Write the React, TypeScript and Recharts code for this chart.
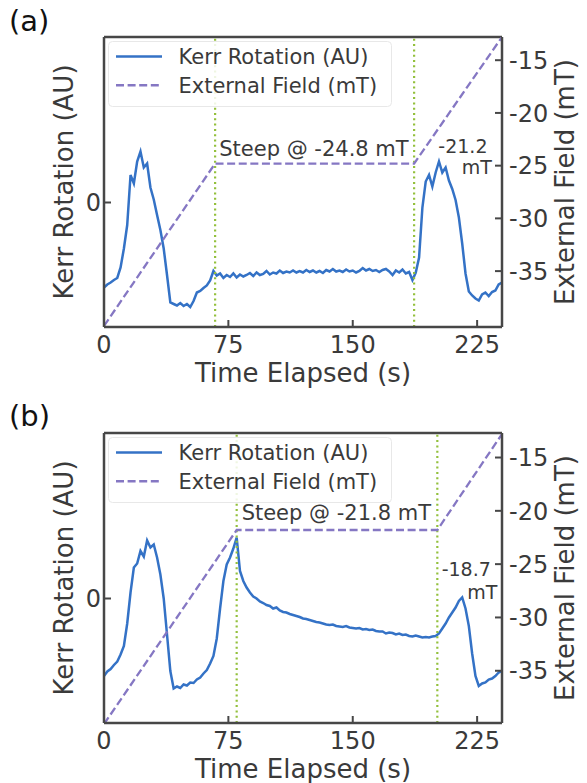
import React from 'react';
import {
  ComposedChart,
  Line,
  XAxis,
  YAxis,
  ReferenceLine,
  ReferenceDot,
  Legend
} from 'recharts';

// sample times (s), shared by both Kerr traces
const times = [
  0, 2, 4, 6, 8, 10, 12, 14, 16, 18,
  20, 22, 24, 26, 28, 30, 32, 34, 36, 38,
  40, 42, 44, 46, 48, 50, 52, 54, 56, 58,
  60, 62, 64, 66, 68, 70, 72, 74, 76, 78,
  80, 82, 84, 86, 88, 90, 92, 94, 96, 98,
  100, 102, 104, 106, 108, 110, 112, 114, 116, 118,
  120, 122, 124, 126, 128, 130, 132, 134, 136, 138,
  140, 142, 144, 146, 148, 150, 152, 154, 156, 158,
  160, 162, 164, 166, 168, 170, 172, 174, 176, 178,
  180, 182, 184, 186, 188, 190, 192, 194, 196, 198,
  200, 202, 204, 206, 208, 210, 212, 214, 216, 218,
  220, 222, 224, 226, 228, 230, 232, 234, 236, 238,
  240
];

const kerrA = [
  -1.70, -1.64, -1.60, -1.55, -1.51, -1.30, -0.92, -0.45, 0.55, 0.38,
  0.82, 1.02, 0.70, 0.78, 0.30, 0.06, -0.25, -0.55, -0.92, -1.45,
  -2.00, -2.03, -2.06, -2.01, -2.07, -2.03, -2.09, -1.97, -1.80, -1.77,
  -1.71, -1.66, -1.56, -1.37, -1.46, -1.42, -1.51, -1.45, -1.49, -1.42,
  -1.50, -1.44, -1.48, -1.45, -1.41, -1.47, -1.40, -1.45, -1.43, -1.37,
  -1.44, -1.40, -1.42, -1.36, -1.41, -1.38, -1.40, -1.36, -1.40, -1.37,
  -1.40, -1.35, -1.39, -1.36, -1.40, -1.37, -1.41, -1.35, -1.38, -1.33,
  -1.38, -1.36, -1.39, -1.34, -1.38, -1.36, -1.40, -1.37, -1.31, -1.36,
  -1.33, -1.37, -1.35, -1.39, -1.35, -1.33, -1.38, -1.45, -1.36, -1.40,
  -1.34, -1.42, -1.39, -1.55, -1.40, -1.10, -0.10, 0.42, 0.55, 0.32,
  0.60, 0.82, 0.60, 0.70, 0.44, 0.27, 0.05, -0.30, -0.82, -1.42,
  -1.78, -1.86, -1.92, -1.96, -1.84, -1.80, -1.87, -1.79, -1.76, -1.64,
  -1.60
];

const kerrB = [
  -1.55, -1.46, -1.41, -1.33, -1.26, -1.12, -0.95, -0.50, 0.12, 0.62,
  0.70, 0.95, 0.84, 1.16, 1.02, 1.08, 0.82, 0.48, 0.00, -0.72,
  -1.45, -1.80, -1.76, -1.79, -1.72, -1.74, -1.68, -1.69, -1.62, -1.58,
  -1.50, -1.43, -1.30, -1.15, -0.80, -0.20, 0.35, 0.68, 0.82, 1.00,
  1.22, 0.55, 0.35, 0.22, 0.12, 0.04, 0.00, -0.06, -0.09, -0.13,
  -0.15, -0.20, -0.18, -0.24, -0.27, -0.28, -0.31, -0.33, -0.35, -0.37,
  -0.40, -0.41, -0.43, -0.45, -0.47, -0.48, -0.50, -0.52, -0.53, -0.52,
  -0.55, -0.56, -0.57, -0.55, -0.58, -0.59, -0.60, -0.59, -0.62, -0.61,
  -0.63, -0.62, -0.65, -0.66, -0.66, -0.70, -0.68, -0.69, -0.72, -0.70,
  -0.73, -0.72, -0.75, -0.76, -0.74, -0.76, -0.78, -0.77, -0.78, -0.76,
  -0.75, -0.70, -0.60, -0.50, -0.38, -0.28, -0.18, -0.05, 0.02, -0.20,
  -0.55, -1.10, -1.55, -1.75, -1.70, -1.68, -1.62, -1.60, -1.55, -1.48,
  -1.45
];

// field ramp corners (s, mT)
const fieldTimesA = [0, 67, 187, 240];
const fieldA = [-40.2, -24.8, -24.8, -12.8];
const fieldTimesB = [0, 80, 201, 240];
const fieldB = [-40.0, -21.8, -21.8, -12.8];

const stepsA = [67, 187];
const stepsB = [80, 201];

const notesA = [
  { t: 69.5, f: -24.05, text: 'Steep @ -24.8 mT', size: 21 },
  { t: 201.6, f: -23.8, text: '-21.2', size: 19 },
  { t: 215.7, f: -25.8, text: 'mT', size: 19 }
];
const notesB = [
  { t: 83.0, f: -20.82, text: 'Steep @ -21.8 mT', size: 21 },
  { t: 203.6, f: -26.1, text: '-18.7', size: 19 },
  { t: 219.1, f: -28.3, text: 'mT', size: 19 }
];

const timeTicks = [0, 75, 150, 225];
const kerrTicks = [0];
const fieldTicks = [-35, -30, -25, -20, -15];

const legendItems = [
  { name: 'Kerr Rotation (AU)', dashed: false },
  { name: 'External Field (mT)', dashed: true }
];

const INK = '#3a3a3a';
const FRAME = '#474747';
const KERR_COLOR = '#3472c6';
const FIELD_COLOR = '#8577c3';
const STEP_COLOR = '#93c03c';
const FONT = '"DejaVu Sans", sans-serif';
const kerrDomain: [number, number] = [-2.49, 3.31];

const timeTick = (p: any) => (
  <g>
    <line x1={p.x} x2={p.x} y1={p.y} y2={p.y - 7} stroke={FRAME} strokeWidth={2} />
    <text x={p.x} y={p.y + 26} textAnchor="middle" fontSize={24} fill={INK} fontFamily={FONT}>
      {p.payload.value}
    </text>
  </g>
);

const kerrTick = (p: any) => (
  <g>
    <line x1={p.x} x2={p.x + 7} y1={p.y} y2={p.y} stroke={FRAME} strokeWidth={2} />
    <text x={p.x - 3} y={p.y + 8.7} textAnchor="end" fontSize={24} fill={INK} fontFamily={FONT}>
      {p.payload.value}
    </text>
  </g>
);

const fieldTick = (p: any) => (
  <g>
    <line x1={p.x} x2={p.x - 7} y1={p.y} y2={p.y} stroke={FRAME} strokeWidth={2} />
    <text x={p.x + 7} y={p.y + 8.7} textAnchor="start" fontSize={24} fill={INK} fontFamily={FONT}>
      {p.payload.value}
    </text>
  </g>
);

const timeLabel = (props: any) => {
  const vb = props.viewBox || {};
  const cx = (vb.x ?? 104) + (vb.width ?? 398) / 2;
  const y = (vb.y ?? 327) + 55;
  return (
    <text x={cx} y={y} textAnchor="middle" fontSize={26} fill={INK} fontFamily={FONT}>
      Time Elapsed (s)
    </text>
  );
};

const sideLabel = (text: string, dx: number) => (props: any) => {
  const vb = props.viewBox || {};
  const x = (vb.x ?? 0) + dx;
  const cy = (vb.y ?? 37) + (vb.height ?? 290) / 2;
  return (
    <text
      x={x}
      y={cy}
      transform={`rotate(-90, ${x}, ${cy})`}
      textAnchor="middle"
      fontSize={26}
      fill={INK}
      fontFamily={FONT}
    >
      {text}
    </text>
  );
};

const LegendBox = () => (
  <svg width={284} height={66}>
    <rect x={0.5} y={0.5} width={283} height={65} rx={4} fill="#fff" fillOpacity={0.85} stroke="#e8e8e8" />
    {legendItems.map((item, i) => {
      const y = 15.5 + i * 28.8;
      return (
        <g key={item.name}>
          <line
            x1={8}
            x2={54}
            y1={y}
            y2={y}
            stroke={item.dashed ? FIELD_COLOR : KERR_COLOR}
            strokeWidth={2.5}
            strokeDasharray={item.dashed ? '8 3.6' : undefined}
          />
          <text x={70.5} y={y + 7.6} fontSize={21} fill={INK} fontFamily={FONT}>
            {item.name}
          </text>
        </g>
      );
    })}
  </svg>
);

interface PanelProps {
  tag: string;
  top: number;
  tagY: number;
  kerr: number[];
  fieldT: number[];
  fieldV: number[];
  fieldDomain: [number, number];
  steps: number[];
  notes: { t: number; f: number; text: string; size: number }[];
}

const Panel: React.FC<PanelProps> = ({ tag, top, tagY, kerr, fieldT, fieldV, fieldDomain, steps, notes }) => {
  const kerrData = times.map((t, i) => ({ t, v: kerr[i] }));
  const fieldData = fieldT.map((t, i) => ({ t, f: fieldV[i] }));

  return (
    <div style={{ position: 'absolute', left: 0, top, width: 587, height: 392 }}>
      <ComposedChart width={587} height={392} data={kerrData} margin={{ top: 37, right: 0, bottom: 15, left: 0 }}>
        <XAxis
          dataKey="t"
          type="number"
          domain={[0, 240]}
          ticks={timeTicks}
          allowDataOverflow
          height={50}
          tickSize={0}
          tickMargin={0}
          tickLine={false}
          axisLine={{ stroke: FRAME, strokeWidth: 2.5 }}
          tick={timeTick}
          label={timeLabel}
        />
        <YAxis
          yAxisId="kerr"
          orientation="left"
          type="number"
          domain={kerrDomain}
          ticks={kerrTicks}
          allowDataOverflow
          width={104}
          tickSize={0}
          tickMargin={0}
          tickLine={false}
          axisLine={{ stroke: FRAME, strokeWidth: 2.5 }}
          tick={kerrTick}
          label={sideLabel('Kerr Rotation (AU)', 73)}
        />
        <YAxis
          yAxisId="field"
          orientation="right"
          type="number"
          domain={fieldDomain}
          ticks={fieldTicks}
          allowDataOverflow
          width={85}
          tickSize={0}
          tickMargin={0}
          tickLine={false}
          axisLine={{ stroke: FRAME, strokeWidth: 2.5 }}
          tick={fieldTick}
          label={sideLabel('External Field (mT)', 72)}
        />
        <ReferenceLine yAxisId="kerr" y={kerrDomain[1]} stroke={FRAME} strokeWidth={2.5} />
        <Line
          yAxisId="kerr"
          dataKey="v"
          stroke={KERR_COLOR}
          strokeWidth={2.5}
          dot={false}
          activeDot={false}
          isAnimationActive={false}
        />
        {steps.map((s) => (
          <ReferenceLine
            key={s}
            yAxisId="kerr"
            x={s}
            stroke={STEP_COLOR}
            strokeWidth={2.2}
            strokeDasharray="2 3.3"
          />
        ))}
        <Line
          yAxisId="field"
          data={fieldData}
          dataKey="f"
          stroke={FIELD_COLOR}
          strokeWidth={2.3}
          strokeDasharray="8 3.6"
          dot={false}
          activeDot={false}
          isAnimationActive={false}
        />
        {notes.map((n) => (
          <ReferenceDot
            key={n.text}
            yAxisId="field"
            x={n.t}
            y={n.f}
            r={0}
            shape={(p: any) => (
              <text x={p.cx} y={p.cy} fontSize={n.size} fill={INK} fontFamily={FONT}>
                {n.text}
              </text>
            )}
          />
        ))}
        <Legend
          verticalAlign="middle"
          align="center"
          wrapperStyle={{ left: 108, top: 41, width: 284, height: 66 }}
          content={() => <LegendBox />}
        />
      </ComposedChart>
      <svg width={80} height={50} style={{ position: 'absolute', left: 0, top: 0 }}>
        <text x={9} y={tagY} fontSize={29} fill="#111" fontFamily={FONT}>
          {tag}
        </text>
      </svg>
    </div>
  );
};

export default function App() {
  return (
    <div style={{ position: 'absolute', left: 0, top: 0, width: 587, height: 783, background: '#fff' }}>
      <Panel
        tag="(a)"
        top={0}
        tagY={31}
        kerr={kerrA}
        fieldT={fieldTimesA}
        fieldV={fieldA}
        fieldDomain={[-40.3, -12.8]}
        steps={stepsA}
        notes={notesA}
      />
      <Panel
        tag="(b)"
        top={396}
        tagY={30}
        kerr={kerrB}
        fieldT={fieldTimesB}
        fieldV={fieldB}
        fieldDomain={[-39.9, -12.7]}
        steps={stepsB}
        notes={notesB}
      />
    </div>
  );
}
